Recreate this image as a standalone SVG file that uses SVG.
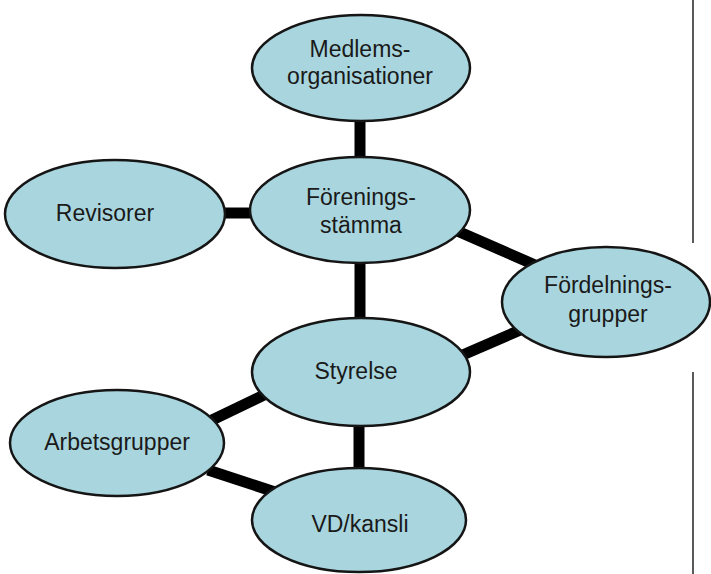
<svg xmlns="http://www.w3.org/2000/svg" width="711" height="574" viewBox="0 0 711 574">
<style>
.n ellipse{fill:#a9d6de;stroke:#151515;stroke-width:2.5}
.n text{font-family:"Liberation Sans",Arial,sans-serif;font-size:23px;fill:#1a1a1a;text-anchor:middle}
.c line{stroke:#000;stroke-width:11}
.frame{stroke:#222;stroke-width:1.5}
</style>
<rect width="711" height="574" fill="#fff"/>
<line class="frame" x1="693" y1="0" x2="693" y2="243"/>
<line class="frame" x1="693" y1="372" x2="693" y2="574"/>
<g class="c" id="connectors">
<line x1="360" y1="118" x2="360" y2="160"/>
<line x1="222" y1="213" x2="252" y2="213"/>
<line x1="455" y1="230" x2="535" y2="265"/>
<line x1="360" y1="262" x2="360" y2="320"/>
<line x1="458" y1="357" x2="525" y2="328"/>
<line x1="210" y1="421" x2="266" y2="394"/>
<line x1="359" y1="425" x2="359" y2="470"/>
<line x1="208" y1="470" x2="275" y2="492"/>
</g>
<g class="n" id="medlemsorganisationer">
<ellipse cx="361" cy="68" rx="109" ry="53"/>
<text x="360" y="57">Medlems-</text>
<text x="360" y="84">organisationer</text>
</g>
<g class="n" id="foreningsstamma">
<ellipse cx="360" cy="210" rx="110" ry="53"/>
<text x="361" y="205">Förenings-</text>
<text x="361" y="233">stämma</text>
</g>
<g class="n" id="revisorer">
<ellipse cx="115" cy="214" rx="110" ry="54"/>
<text x="105" y="221">Revisorer</text>
</g>
<g class="n" id="fordelningsgrupper">
<ellipse cx="606" cy="302" rx="104" ry="55"/>
<text x="608" y="293">Fördelnings-</text>
<text x="608" y="322">grupper</text>
</g>
<g class="n" id="styrelse">
<ellipse cx="361" cy="372" rx="109" ry="54"/>
<text x="356" y="379">Styrelse</text>
</g>
<g class="n" id="arbetsgrupper">
<ellipse cx="117" cy="443" rx="107" ry="53"/>
<text x="117" y="450">Arbetsgrupper</text>
</g>
<g class="n" id="vdkansli">
<ellipse cx="359" cy="520" rx="107" ry="52"/>
<text x="360" y="532">VD/kansli</text>
</g>
</svg>
